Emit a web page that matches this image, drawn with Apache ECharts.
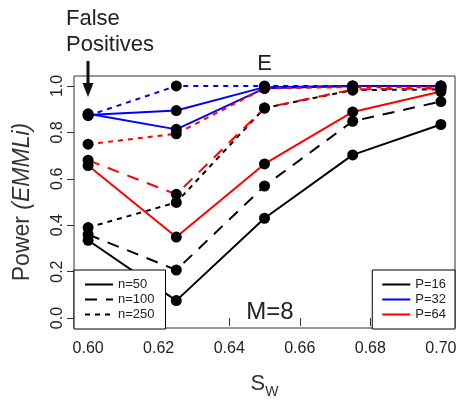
<!DOCTYPE html>
<html><head><meta charset="utf-8">
<script src="https://cdn.jsdelivr.net/npm/echarts@6/dist/echarts.min.js"></script>
<style>html,body{margin:0;padding:0;background:#fff}#c{width:461px;height:404px}</style>
</head><body><div id="c"></div>
<script>
// S_W values (x)
const sw = [0.60, 0.625, 0.65, 0.675, 0.70];
const xTicks = [0.60, 0.62, 0.64, 0.66, 0.68, 0.70];
const yTicks = [0.0, 0.2, 0.4, 0.6, 0.8, 1.0];

const sampleSizes = ['n=50', 'n=100', 'n=250'];
const predictors = ['P=16', 'P=32', 'P=64'];

// Power (EMMLi), P=16 (black)
const p16_n50  = [0.335, 0.075, 0.430, 0.703, 0.834];
const p16_n100 = [0.360, 0.207, 0.569, 0.848, 0.933];
const p16_n250 = [0.390, 0.498, 0.905, 0.982, 0.985];
// P=32 (blue)
const p32_n50  = [0.875, 0.894, 0.995, 1.000, 1.000];
const p32_n100 = [0.880, 0.813, 0.990, 1.000, 1.000];
const p32_n250 = [0.872, 1.000, 1.000, 1.000, 1.000];
// P=64 (red)
const p64_n50  = [0.657, 0.349, 0.664, 0.888, 0.976];
const p64_n100 = [0.680, 0.533, 0.905, 0.985, 0.990];
const p64_n250 = [0.749, 0.794, 0.990, 0.995, 0.995];

const colors = {'P=16': '#000000', 'P=32': '#0000ff', 'P=64': '#ff0000'};
const dashes = {'n=50': 'solid', 'n=100': [12, 9], 'n=250': [5, 5]};

// [P, n, values, drawn line type] (blue n=100 appears solid in the original)
const groups = [
  ['P=16', 'n=50', p16_n50, dashes['n=50']], ['P=16', 'n=100', p16_n100, dashes['n=100']], ['P=16', 'n=250', p16_n250, dashes['n=250']],
  ['P=32', 'n=50', p32_n50, dashes['n=50']], ['P=32', 'n=100', p32_n100, 'solid'], ['P=32', 'n=250', p32_n250, dashes['n=250']],
  ['P=64', 'n=50', p64_n50, dashes['n=50']], ['P=64', 'n=100', p64_n100, dashes['n=100']], ['P=64', 'n=250', p64_n250, dashes['n=250']]
];

const series = groups.map(([p, n, vals, lt]) => ({
  type: 'line',
  name: p + ' ' + n,
  data: sw.map((x, i) => [x, vals[i]]),
  lineStyle: {color: colors[p], width: 2, type: lt},
  symbol: 'circle', symbolSize: 11,
  itemStyle: {color: '#000'},
  emphasis: {disabled: true},
  z: 2
}));
// legend-only series
sampleSizes.forEach(n => series.push({
  type: 'line', name: n, data: [], symbol: 'none',
  color: '#000', lineStyle: {color: '#000', width: 2, type: dashes[n]}
}));
predictors.forEach(p => series.push({
  type: 'line', name: p, data: [], symbol: 'none',
  color: colors[p], lineStyle: {color: colors[p], width: 2, type: 'solid'}
}));

const legendCommon = {
  orient: 'vertical', top: 270, itemWidth: 28, itemHeight: 14, itemGap: 2,
  borderColor: '#000', borderWidth: 1, backgroundColor: '#fff', borderRadius: 0,
  selectedMode: false, textStyle: {fontSize: 13, color: '#222', fontFamily: 'Liberation Sans'},
  itemStyle: {opacity: 0},
  lineStyle: {opacity: 1},
  z: 10
};

const chart = echarts.init(document.getElementById('c'), null, {renderer: 'canvas'});
chart.setOption({
  animation: false,
  backgroundColor: '#fff',
  textStyle: {fontFamily: 'Liberation Sans'},
  grid: {left: 74, right: 6, top: 76, bottom: 72, show: true, borderColor: '#333', borderWidth: 1, backgroundColor: 'transparent'},
  xAxis: {
    type: 'value', min: 0.596, max: 0.704,
    axisLine: {show: false},
    splitLine: {show: false},
    axisTick: {show: true, length: 8, lineStyle: {color: '#333'}, customValues: xTicks},
    axisLabel: {customValues: xTicks, formatter: v => v.toFixed(2), fontSize: 16, color: '#222', margin: 13},
    name: '{s|S}{w|W}', nameLocation: 'middle', nameGap: 45,
    nameTextStyle: {color: '#333', rich: {
      s: {fontSize: 22, lineHeight: 26, verticalAlign: 'top', color: '#333'},
      w: {fontSize: 14, lineHeight: 14, verticalAlign: 'bottom', color: '#333'}
    }}
  },
  yAxis: {
    type: 'value', min: -0.043, max: 1.043,
    axisLine: {show: false},
    splitLine: {show: false},
    axisTick: {show: true, length: 7, lineStyle: {color: '#333'}, customValues: yTicks},
    axisLabel: {customValues: yTicks, formatter: v => v.toFixed(1), fontSize: 16, color: '#222', rotate: 90, margin: 8},
    name: '{a|Power }{b|(EMMLi)}', nameLocation: 'middle', nameGap: 40, nameRotate: 90,
    nameTextStyle: {rich: {
      a: {fontSize: 23, color: '#333'},
      b: {fontSize: 23, fontStyle: 'italic', color: '#333'}
    }}
  },
  legend: [
    Object.assign({}, legendCommon, {data: sampleSizes, left: 74, padding: [8, 11, 8, 10]}),
    Object.assign({}, legendCommon, {data: predictors, right: 6, padding: [8, 9, 8, 9]})
  ],
  graphic: [
    {type: 'text', left: 66, top: 8, style: {text: 'False', fontSize: 22, fill: '#222', fontFamily: 'Liberation Sans'}},
    {type: 'text', left: 66, top: 34, style: {text: 'Positives', fontSize: 22, fill: '#222', fontFamily: 'Liberation Sans'}},
    {type: 'line', shape: {x1: 88, y1: 61, x2: 88, y2: 86}, style: {stroke: '#111', lineWidth: 3}},
    {type: 'polygon', shape: {points: [[82.5, 83], [93.5, 83], [88, 97]]}, style: {fill: '#111'}},
    {type: 'text', x: 264.5, y: 75, style: {text: 'E', fontSize: 22, fill: '#222', textAlign: 'center', textVerticalAlign: 'bottom', fontFamily: 'Liberation Sans'}},
    {type: 'text', x: 270, y: 312, z: 20, style: {text: 'M=8', fontSize: 24, fill: '#222', textAlign: 'center', textVerticalAlign: 'middle', fontFamily: 'Liberation Sans'}},
    {type: 'text', x: 261, y: 3, style: {text: 'W', fontSize: 14, fill: '#333', textAlign: 'center', textVerticalAlign: 'bottom', fontFamily: 'Liberation Sans'}}
  ],
  series: series
});
</script></body></html>
